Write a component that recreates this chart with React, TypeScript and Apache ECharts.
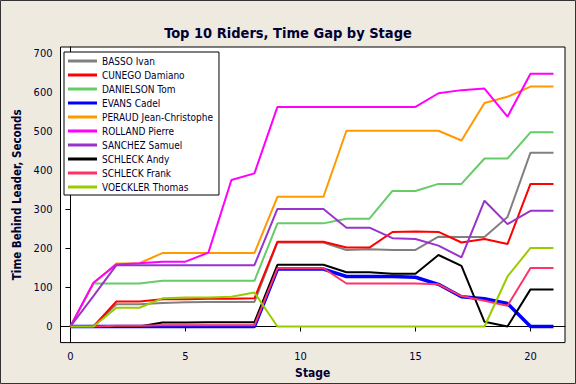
import React, { useEffect, useRef } from "react";
import * as echarts from "echarts";

const stages = [0, 1, 2, 3, 4, 5, 6, 7, 8, 9, 10, 11, 12, 13, 14, 15, 16, 17, 18, 19, 20, 21];
const xTicks = [0, 5, 10, 15, 20];
const yTicks = [0, 100, 200, 300, 400, 500, 600, 700];

const riderNames = [
  "BASSO Ivan",
  "CUNEGO Damiano",
  "DANIELSON Tom",
  "EVANS Cadel",
  "PERAUD Jean-Christophe",
  "ROLLAND Pierre",
  "SANCHEZ Samuel",
  "SCHLECK Andy",
  "SCHLECK Frank",
  "VOECKLER Thomas",
];

const basso = [0, 0, 57, 57, 60, 62, 63, 63, 63, 215, 215, 215, 196, 198, 196, 196, 230, 229, 229, 280, 445, 445];
const cunego = [0, 0, 64, 64, 70, 70, 71, 71, 72, 217, 217, 217, 202, 202, 242, 243, 242, 215, 224, 211, 365, 365];
const danielson = [0, 110, 110, 110, 117, 117, 117, 117, 117, 264, 264, 264, 276, 276, 347, 347, 365, 365, 430, 430, 497, 497];
const evans = [0, 0, 0, 0, 0, 0, 0, 0, 0, 147, 147, 147, 128, 128, 128, 126, 108, 76, 71, 59, 0, 0];
const peraud = [0, 110, 161, 162, 188, 188, 188, 188, 188, 332, 332, 332, 501, 501, 501, 501, 501, 476, 572, 588, 614, 614];
const rolland = [0, 112, 159, 162, 166, 166, 189, 375, 392, 562, 562, 562, 562, 562, 562, 562, 597, 605, 609, 537, 647, 647];
const sanchez = [0, 78, 157, 157, 157, 157, 157, 157, 157, 301, 301, 301, 253, 253, 226, 224, 207, 177, 322, 262, 296, 296];
const schleckAndy = [0, 0, 0, 0, 10, 10, 11, 11, 11, 158, 158, 158, 139, 139, 135, 135, 183, 155, 12, 0, 95, 95];
const schleckFrank = [0, 0, 2, 2, 3, 3, 3, 3, 3, 149, 149, 149, 110, 110, 110, 110, 108, 78, 66, 53, 150, 150];
const voeckler = [0, 0, 48, 48, 72, 74, 74, 76, 87, 0, 0, 0, 0, 0, 0, 0, 0, 0, 0, 128, 201, 201];

const riderValues = [basso, cunego, danielson, evans, peraud, rolland, sanchez, schleckAndy, schleckFrank, voeckler];
const riderColors = ["#808080", "#FF0000", "#66CC66", "#0000FF", "#FF9900", "#FF00FF", "#9933CC", "#000000", "#FF3366", "#99CC00"];
const riderWidths = [2, 2, 2, 3.5, 2, 2, 2, 2, 2, 2];

const TEXT = "#000033";
const FONT = "DejaVu Sans Condensed";

export default function App() {
  const ref = useRef<HTMLDivElement>(null);
  useEffect(() => {
    if (!ref.current) return;
    const chart = echarts.init(ref.current, undefined, { renderer: "svg" });
    chart.setOption({
      animation: false,
      backgroundColor: "#EEEAE0",
      title: {
        text: "Top 10 Riders, Time Gap by Stage",
        left: "center",
        top: 20,
        textStyle: { fontFamily: FONT, fontWeight: "bold", fontSize: 14.5, color: TEXT },
      },
      graphic: [
        {
          type: "rect",
          shape: { x: 0.5, y: 0.5, width: 575, height: 383 },
          style: { fill: "none", stroke: "#333", lineWidth: 1 },
          silent: true,
        },
      ],
      grid: {
        left: 60.5,
        top: 47,
        right: 11,
        bottom: 41.4,
        show: true,
        backgroundColor: "#FFFFFF",
        borderColor: "#000000",
        borderWidth: 1,
      },
      legend: {
        orient: "vertical",
        left: 64,
        top: 52,
        padding: [2, 6, 1, 4],
        itemGap: 0,
        itemWidth: 29,
        itemHeight: 3,
        icon: "rect",
        backgroundColor: "#FFFFFF",
        borderColor: "#000000",
        borderWidth: 1,
        data: riderNames,
        textStyle: { fontFamily: FONT, fontSize: 10, color: TEXT, lineHeight: 14 },
      },
      xAxis: {
        type: "value",
        min: -0.43,
        max: 21.5,
        name: "Stage",
        nameLocation: "middle",
        nameGap: 24,
        nameTextStyle: { fontFamily: FONT, fontWeight: "bold", fontSize: 12, color: TEXT },
        axisLine: { show: true, lineStyle: { color: "#000", width: 1 } },
        axisTick: { show: true, length: 5, customValues: xTicks, lineStyle: { color: "#000" } },
        axisLabel: { customValues: xTicks, margin: 8, fontFamily: FONT, fontSize: 11, color: TEXT },
        splitLine: { show: false },
      },
      yAxis: {
        type: "value",
        min: -41.2,
        max: 715.4,
        name: "Time Behind Leader, Seconds",
        nameLocation: "middle",
        nameGap: 37,
        nameTextStyle: { fontFamily: FONT, fontWeight: "bold", fontSize: 11.5, color: TEXT },
        axisLine: { show: true, lineStyle: { color: "#000", width: 1 } },
        axisTick: { show: true, length: 5, customValues: yTicks, lineStyle: { color: "#000" } },
        axisLabel: { customValues: yTicks, margin: 8, fontFamily: FONT, fontSize: 11, color: TEXT },
        splitLine: { show: false },
      },
      series: riderNames.map((name, i) => ({
        name,
        type: "line",
        showSymbol: false,
        symbol: "none",
        color: riderColors[i],
        lineStyle: { width: riderWidths[i], color: riderColors[i] },
        data: stages.map((s, j) => [s, riderValues[i][j]]),
      })),
    });
    return () => chart.dispose();
  }, []);
  return <div ref={ref} style={{ position: "absolute", left: 0, top: 0, width: 576, height: 384 }} />;
}
